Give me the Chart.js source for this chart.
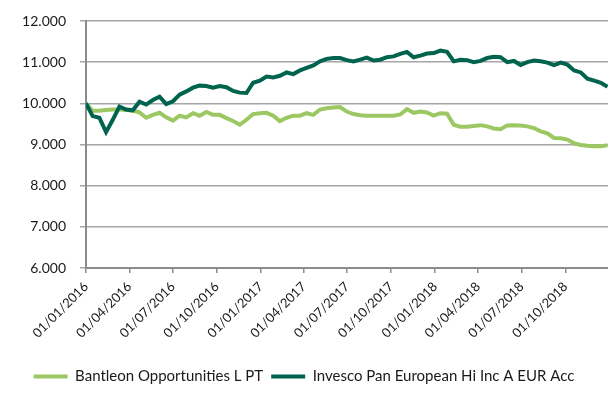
<!DOCTYPE html>
<html>
<head>
<meta charset="utf-8">
<script src="https://cdn.jsdelivr.net/npm/chart.js@4.4.1/dist/chart.umd.min.js"></script>
<style>
  html, body { margin: 0; padding: 0; background: #ffffff; }
  #wrap { width: 608px; height: 409px; position: relative; }
</style>
</head>
<body>
<div id="wrap"><canvas id="c" width="608" height="409"></canvas></div>
<script>
// ---- data ----
const dates = [
  '2016-01-01','2016-01-15','2016-01-29','2016-02-12','2016-02-26','2016-03-11','2016-03-25','2016-04-08','2016-04-22','2016-05-06',
  '2016-05-20','2016-06-03','2016-06-17','2016-07-01','2016-07-15','2016-07-29','2016-08-12','2016-08-26','2016-09-09','2016-09-23',
  '2016-10-07','2016-10-21','2016-11-04','2016-11-18','2016-12-02','2016-12-16','2016-12-30','2017-01-13','2017-01-27','2017-02-10',
  '2017-02-24','2017-03-10','2017-03-24','2017-04-07','2017-04-21','2017-05-05','2017-05-19','2017-06-02','2017-06-16','2017-06-30',
  '2017-07-14','2017-07-28','2017-08-11','2017-08-25','2017-09-08','2017-09-22','2017-10-06','2017-10-20','2017-11-03','2017-11-17',
  '2017-12-01','2017-12-15','2017-12-29','2018-01-12','2018-01-26','2018-02-09','2018-02-23','2018-03-09','2018-03-23','2018-04-06',
  '2018-04-20','2018-05-04','2018-05-18','2018-06-01','2018-06-15','2018-06-29','2018-07-13','2018-07-27','2018-08-10','2018-08-24',
  '2018-09-07','2018-09-21','2018-10-05','2018-10-19','2018-11-02','2018-11-16','2018-11-30','2018-12-14','2018-12-28'
];
const bantleon = [
  10000, 9820, 9820, 9840, 9850, 9850, 9840, 9820, 9780, 9650,
  9720, 9770, 9660, 9580, 9700, 9660, 9760, 9700, 9790, 9720,
  9720, 9640, 9570, 9480, 9600, 9740, 9760, 9770, 9700, 9570,
  9650, 9700, 9700, 9760, 9720, 9850, 9880, 9900, 9910, 9800,
  9740, 9710, 9700, 9700, 9700, 9700, 9700, 9730, 9860, 9770,
  9800, 9780, 9700, 9760, 9750, 9480, 9430, 9430, 9450, 9470,
  9440, 9390, 9370, 9460, 9470, 9460, 9440, 9400, 9320, 9270,
  9160, 9150, 9120, 9030, 8990, 8970, 8960, 8960, 8980
];
const invesco = [
  10000, 9690, 9650, 9300, 9600, 9920, 9850, 9830, 10040, 9970,
  10080, 10160, 9980, 10050, 10210, 10290, 10380, 10430, 10420, 10380,
  10420, 10390, 10300, 10260, 10250, 10500, 10550, 10650, 10630, 10670,
  10750, 10710, 10800, 10860, 10920, 11020, 11080, 11100, 11100, 11050,
  11020, 11060, 11110, 11040, 11060, 11120, 11140, 11200, 11250, 11120,
  11160, 11210, 11220, 11280, 11250, 11020, 11060, 11050, 11000, 11030,
  11100, 11130, 11120, 11000, 11030, 10930, 11000, 11040, 11020, 10990,
  10930, 10990, 10940, 10800, 10750, 10600, 10550, 10500, 10400
];
const seriesNames = ['Bantleon Opportunities L PT', 'Invesco Pan European Hi Inc A EUR Acc'];
const tickDates = ['2016-01-01','2016-04-01','2016-07-01','2016-10-01','2017-01-01','2017-04-01',
                   '2017-07-01','2017-10-01','2018-01-01','2018-04-01','2018-07-01','2018-10-01'];
const tickLabels = ['01/01/2016','01/04/2016','01/07/2016','01/10/2016','01/01/2017','01/04/2017',
                    '01/07/2017','01/10/2017','01/01/2018','01/04/2018','01/07/2018','01/10/2018'];
const axisStart = '2016-01-01';
const axisEnd = '2018-12-29';
const yMin = 6000, yMax = 12000, yStep = 1000;

// ---- helpers ----
function dayOf(s) {
  const p = s.split('-').map(Number);
  const b = axisStart.split('-').map(Number);
  return Math.round((Date.UTC(p[0], p[1]-1, p[2]) - Date.UTC(b[0], b[1]-1, b[2])) / 86400000);
}
function fmtDE(v) {
  const th = Math.floor(v / 1000);
  const rest = Math.round(v % 1000);
  return th + '.' + String(rest).padStart(3, '0');
}
const tickMap = {};
tickDates.forEach((d, i) => { tickMap[dayOf(d)] = tickLabels[i]; });

const pts = (vals) => dates.map((d, i) => ({ x: dayOf(d), y: vals[i] }));

const FONT = 'Lato, "Open Sans", sans-serif';
const gridColor = '#a6a6a6';
const axisColor = '#8c8c8c';

new Chart(document.getElementById('c'), {
  type: 'line',
  data: {
    datasets: [
      { label: seriesNames[0], data: pts(bantleon), borderColor: '#9bc862', backgroundColor: '#9bc862',
        borderWidth: 4, pointRadius: 0, tension: 0, order: 1 },
      { label: seriesNames[1], data: pts(invesco), borderColor: '#00634d', backgroundColor: '#00634d',
        borderWidth: 4, pointRadius: 0, tension: 0, order: 0 }
    ]
  },
  options: {
    responsive: false,
    animation: false,
    events: [],
    layout: { padding: { top: 21, left: 0, right: 0, bottom: 15 } },
    scales: {
      x: {
        type: 'linear',
        min: dayOf(axisStart),
        max: dayOf(axisEnd),
        afterBuildTicks: (s) => { s.ticks = tickDates.map(d => ({ value: dayOf(d) })); },
        afterFit: (s) => { s.height = 93; s.paddingLeft = 0; s.paddingRight = 0; },
        border: { display: true, color: axisColor, width: 2 },
        grid: { display: true, drawOnChartArea: false, drawTicks: true, tickLength: 5, color: axisColor, lineWidth: 1.5 },
        ticks: {
          autoSkip: false, maxRotation: 45, minRotation: 45, padding: 6,
          color: '#1a1a1a', font: { family: FONT, size: 13 },
          callback: (v) => tickMap[v] || ''
        }
      },
      y: {
        min: yMin, max: yMax,
        afterFit: (s) => { s.width = 86; s.paddingTop = 0; s.paddingBottom = 0; },
        border: { display: true, color: axisColor, width: 2 },
        grid: { color: gridColor, lineWidth: 1.5, drawTicks: true, tickLength: 6 },
        ticks: {
          stepSize: yStep, padding: 14,
          color: '#1a1a1a', font: { family: FONT, size: 14 },
          callback: (v) => fmtDE(v)
        }
      }
    },
    plugins: {
      tooltip: { enabled: false },
      legend: {
        position: 'bottom',
        labels: {
          usePointStyle: true, pointStyle: 'line', pointStyleWidth: 34,
          padding: 8, color: '#1a1a1a', font: { family: FONT, size: 15 },
          sort: (a, b) => a.datasetIndex - b.datasetIndex
        }
      }
    }
  }
});
</script>
</body>
</html>
